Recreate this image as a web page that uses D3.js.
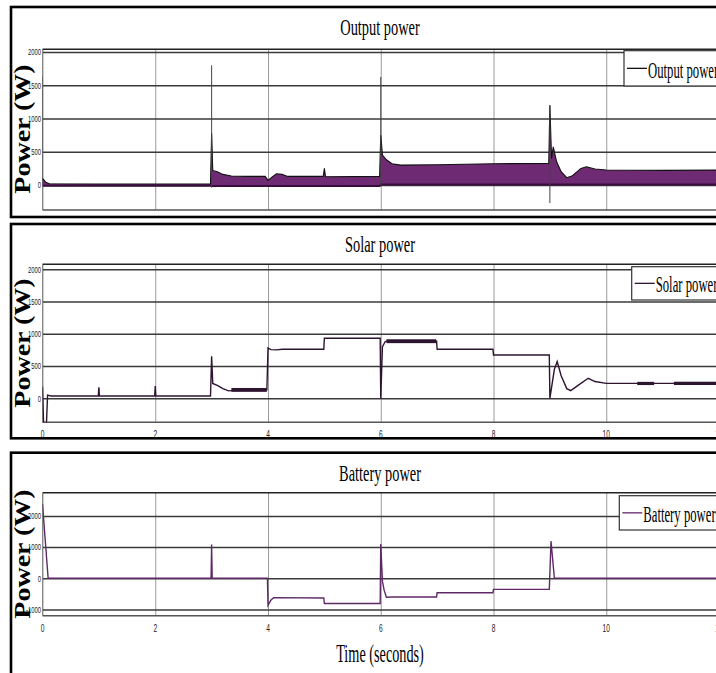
<!DOCTYPE html>
<html>
<head>
<meta charset="utf-8">
<script src="https://cdn.jsdelivr.net/npm/d3@7"></script>
<style>
body { margin: 0; background: #fff; }
svg { display: block; }
</style>
</head>
<body>
<svg id="chart" width="716" height="673"></svg>
<script>

// ---- data ----
var panelTitles = ["Output power", "Solar power", "Battery power"];
var legendNames = ["Output power", "Solar power", "Battery power"];
var yTicks = [[0, 500, 1000, 1500, 2000], [0, 500, 1000, 1500, 2000], [-1000, 0, 1000, 2000]];
var yDomains = [[-375, 2040], [-372, 2077], [-1200, 2745]];
var tTicks = [0, 2, 4, 6, 8, 10, 12];

// output power is a fast ripple, drawn as a band (upper / lower envelope)
var outTime  = [0, 0.02, 0.06, 0.12, 1.0, 2.0, 2.98, 3.0, 3.02, 3.1, 3.2, 3.35, 3.6, 3.95, 4.0, 4.07, 4.15, 4.25, 4.35, 4.98, 5.0, 5.02, 5.98, 6.0, 6.03, 6.1, 6.2, 6.35, 7.0, 8.0, 8.98, 9.0, 9.03, 9.06, 9.12, 9.2, 9.3, 9.4, 9.55, 9.65, 9.8, 10.0, 11.0, 12.0];
var outUpper = [100, 80, 40, 20, 15, 15, 15, 780, 220, 200, 160, 135, 130, 130, 70, 120, 170, 160, 130, 130, 250, 125, 130, 750, 450, 380, 320, 300, 305, 320, 325, 1200, 400, 575, 350, 200, 110, 140, 250, 275, 240, 225, 220, 225];
var outLower = [-10, -10, -10, -10, -10, -10, -10, -15, -15, -15, -15, -15, -15, -15, -15, -15, -15, -15, -15, -15, -15, -15, -15, 10, 10, 10, 10, 10, 10, 10, 10, 10, 10, 10, 10, 10, 10, 10, 10, 10, 10, 10, 10, 10];
// thin transient spikes in output power
var outSpikeT  = [0, 3, 6, 9];
var outSpikeHi = [1630, 1800, 1625, 1200];
var outSpikeLo = [0, -40, 0, -270];

var solarTime = [0, 0.02, 0.07, 0.09, 0.15, 0.99, 1.0, 1.01, 1.99, 2.0, 2.01, 2.98, 3.0, 3.02, 3.1, 3.2, 3.3, 3.5, 3.98, 4.0, 4.05, 4.15, 4.25, 4.99, 5.0, 5.99, 6.0, 6.03, 6.08, 6.15, 6.99, 7.0, 7.99, 8.0, 8.99, 9.0, 9.08, 9.13, 9.2, 9.3, 9.37, 9.5, 9.68, 9.8, 10.0, 12.0];
var solarW    = [180, -400, -400, 50, 35, 35, 170, 35, 35, 190, 35, 35, 650, 230, 200, 150, 115, 130, 130, 780, 755, 750, 760, 760, 930, 930, 0, 800, 880, 890, 890, 760, 760, 670, 670, 0, 450, 570, 350, 150, 118, 200, 310, 260, 232, 232];
// ripple bands on the solar trace
var solarRipT0 = [3.35, 6.1, 10.55, 11.2];
var solarRipT1 = [3.98, 6.98, 10.85, 12.0];
var solarRipLo = [100, 855, 205, 206];
var solarRipHi = [160, 915, 255, 257];

var batTime = [0, 0.1, 2.99, 3.0, 3.01, 3.99, 4.0, 4.05, 4.1, 4.99, 5.0, 5.99, 6.0, 6.03, 6.06, 6.1, 6.2, 6.99, 7.0, 7.99, 8.0, 8.99, 9.02, 9.08, 12.0];
var batW    = [2380, 0, 0, 1080, 0, 0, -870, -700, -620, -630, -810, -810, 1100, -100, -380, -610, -600, -600, -466, -466, -355, -355, 1190, 0, 0];

// ---- layout ----
var serif = "'Liberation Serif', 'Times New Roman', serif";
var sans = "'Liberation Sans', Arial, sans-serif";

var layout = [
    {boxTop: 7,     boxBottom: 217,   plotTop: 49.3,  plotBottom: 210,   ylabY: 129, legX: 624,   legY: 50.7,  legH: 35.3, xLabels: false},
    {boxTop: 224,   boxBottom: 438.3, plotTop: 264.3, plotBottom: 422.3, ylabY: 343, legX: 631.7, legY: 266.7, legH: 33.3, xLabels: true},
    {boxTop: 452.7, boxBottom: 690,   plotTop: 492.7, plotBottom: 615.7, ylabY: 554, legX: 619.3, legY: 495.7, legH: 34.3, xLabels: true}
];
var legendColors = ["#111", "#2d1530", "#5e2a66"];

var svg = d3.select("#chart");
var x = d3.scaleLinear().domain([0, 12]).range([42.5, 719]);


// text squeezed sideways, the picture is horizontally compressed
function condText(parent, px, py, str, size, sx, anchor, family, weight, fill) {
    return parent.append("text")
        .attr("transform", "translate(" + px + "," + py + ") scale(" + sx + ",1)")
        .attr("text-anchor", anchor)
        .style("font-family", family)
        .style("font-size", size + "px")
        .style("font-weight", weight || "normal")
        .attr("fill", fill || "#000")
        .text(str);
}


function drawFrame(i) {
    var L = layout[i];
    var g = svg.append("g");
    var y = d3.scaleLinear().domain(yDomains[i]).range([L.plotBottom, L.plotTop]);
    var plotW = x(12) - x(0);
    var plotH = L.plotBottom - L.plotTop;

    g.append("rect")
        .attr("x", 11).attr("y", L.boxTop)
        .attr("width", 780).attr("height", L.boxBottom - L.boxTop)
        .attr("fill", "none").attr("stroke", "#000").attr("stroke-width", 2.6);

    condText(g, 380, L.boxTop + 28, panelTitles[i], 24, 0.6, "middle", serif);

    // vertical grid (time)
    g.append("g")
        .attr("transform", "translate(0," + L.plotBottom + ")")
        .call(d3.axisBottom(x).tickValues(tTicks).tickSize(-plotH).tickFormat(""))
        .call(function (s) { s.select(".domain").remove(); })
        .selectAll("line").attr("stroke", "#9a9a9a").attr("stroke-width", 1);

    // horizontal grid (power)
    g.append("g")
        .attr("transform", "translate(" + x(0) + ",0)")
        .call(d3.axisLeft(y).tickValues(yTicks[i]).tickSize(-plotW).tickFormat(""))
        .call(function (s) { s.select(".domain").remove(); })
        .selectAll("line").attr("stroke", "#3a3a3a").attr("stroke-width", 1.5);

    // plot frame
    g.append("line").attr("x1", x(0)).attr("x2", x(12)).attr("y1", L.plotTop).attr("y2", L.plotTop)
        .attr("stroke", "#222").attr("stroke-width", 1.6);
    g.append("line").attr("x1", x(0)).attr("x2", x(12)).attr("y1", L.plotBottom).attr("y2", L.plotBottom)
        .attr("stroke", "#555").attr("stroke-width", 1.5);
    g.append("line").attr("x1", x(0)).attr("x2", x(0)).attr("y1", L.plotTop).attr("y2", L.plotBottom)
        .attr("stroke", "#888").attr("stroke-width", 1);

    // tick labels
    yTicks[i].forEach(function (v) {
        condText(g, 41, y(v) + 3.3, String(v), 9.5, 0.62, "end", sans, "normal", "#222");
    });
    if (L.xLabels) {
        tTicks.forEach(function (t) {
            condText(g, x(t), L.plotBottom + 16, String(t), 11, 0.6, "middle", sans, "normal", "#222");
        });
    }

    // y label
    g.append("text")
        .attr("transform", "translate(30," + L.ylabY + ") rotate(-90) scale(1,0.8)")
        .attr("text-anchor", "middle")
        .style("font-family", serif)
        .style("font-size", "28px")
        .style("font-weight", "bold")
        .text("Power (W)");

    // clip for the traces
    svg.append("clipPath").attr("id", "clip" + i)
        .append("rect").attr("x", x(0)).attr("y", L.plotTop).attr("width", plotW).attr("height", plotH);

    return y;
}


function drawLegend(i) {
    var L = layout[i];
    var g = svg.append("g");
    g.append("rect")
        .attr("x", L.legX).attr("y", L.legY).attr("width", 200).attr("height", L.legH)
        .attr("fill", "#fff").attr("stroke", "#333").attr("stroke-width", 1.2);
    g.append("line")
        .attr("x1", L.legX + 3).attr("x2", L.legX + 23)
        .attr("y1", L.legY + L.legH / 2).attr("y2", L.legY + L.legH / 2)
        .attr("stroke", legendColors[i]).attr("stroke-width", 1.3);
    condText(g, L.legX + 24, L.legY + L.legH - 8, legendNames[i], 24, 0.53, "start", serif);
}


// ---- panel 1: output power ----
var y0 = drawFrame(0);
var p0 = svg.append("g").attr("clip-path", "url(#clip0)");
var outIdx = d3.range(outTime.length);

p0.append("path")
    .datum(outIdx)
    .attr("d", d3.area().x(function (k) { return x(outTime[k]); })
        .y0(function (k) { return y0(outLower[k]); })
        .y1(function (k) { return y0(outUpper[k]); }))
    .attr("fill", "#6e2a73");
p0.append("path")
    .datum(outIdx)
    .attr("d", d3.line().x(function (k) { return x(outTime[k]); }).y(function (k) { return y0(outLower[k]); }))
    .attr("fill", "none").attr("stroke", "#3a0c3e").attr("stroke-width", 2);
p0.append("path")
    .datum(outIdx)
    .attr("d", d3.line().x(function (k) { return x(outTime[k]); }).y(function (k) { return y0(outUpper[k]); }))
    .attr("fill", "none").attr("stroke", "#111").attr("stroke-width", 1.1);

p0.selectAll("line.spike")
    .data(d3.range(outSpikeT.length))
    .join("line")
    .attr("class", "spike")
    .attr("x1", function (k) { return x(outSpikeT[k]); })
    .attr("x2", function (k) { return x(outSpikeT[k]); })
    .attr("y1", function (k) { return y0(outSpikeLo[k]); })
    .attr("y2", function (k) { return y0(outSpikeHi[k]); })
    .attr("stroke", "#444").attr("stroke-width", 1);

drawLegend(0);


// ---- panel 2: solar power ----
var y1 = drawFrame(1);
var p1 = svg.append("g").attr("clip-path", "url(#clip1)");

p1.selectAll("rect.ripple")
    .data(d3.range(solarRipT0.length))
    .join("rect")
    .attr("class", "ripple")
    .attr("x", function (k) { return x(solarRipT0[k]); })
    .attr("width", function (k) { return x(solarRipT1[k]) - x(solarRipT0[k]); })
    .attr("y", function (k) { return y1(solarRipHi[k]); })
    .attr("height", function (k) { return y1(solarRipLo[k]) - y1(solarRipHi[k]); })
    .attr("fill", "#2d1530");

p1.append("path")
    .datum(d3.range(solarTime.length))
    .attr("d", d3.line().x(function (k) { return x(solarTime[k]); }).y(function (k) { return y1(solarW[k]); }))
    .attr("fill", "none").attr("stroke", "#2d1530").attr("stroke-width", 1.4);

drawLegend(1);


// ---- panel 3: battery power ----
var y2 = drawFrame(2);
var p2 = svg.append("g").attr("clip-path", "url(#clip2)");

p2.append("path")
    .datum(d3.range(batTime.length))
    .attr("d", d3.line().x(function (k) { return x(batTime[k]); }).y(function (k) { return y2(batW[k]); }))
    .attr("fill", "none").attr("stroke", "#5e2a66").attr("stroke-width", 1.4);

drawLegend(2);

condText(svg, 380, 662, "Time (seconds)", 25, 0.57, "middle", serif);

</script>
</body>
</html>
